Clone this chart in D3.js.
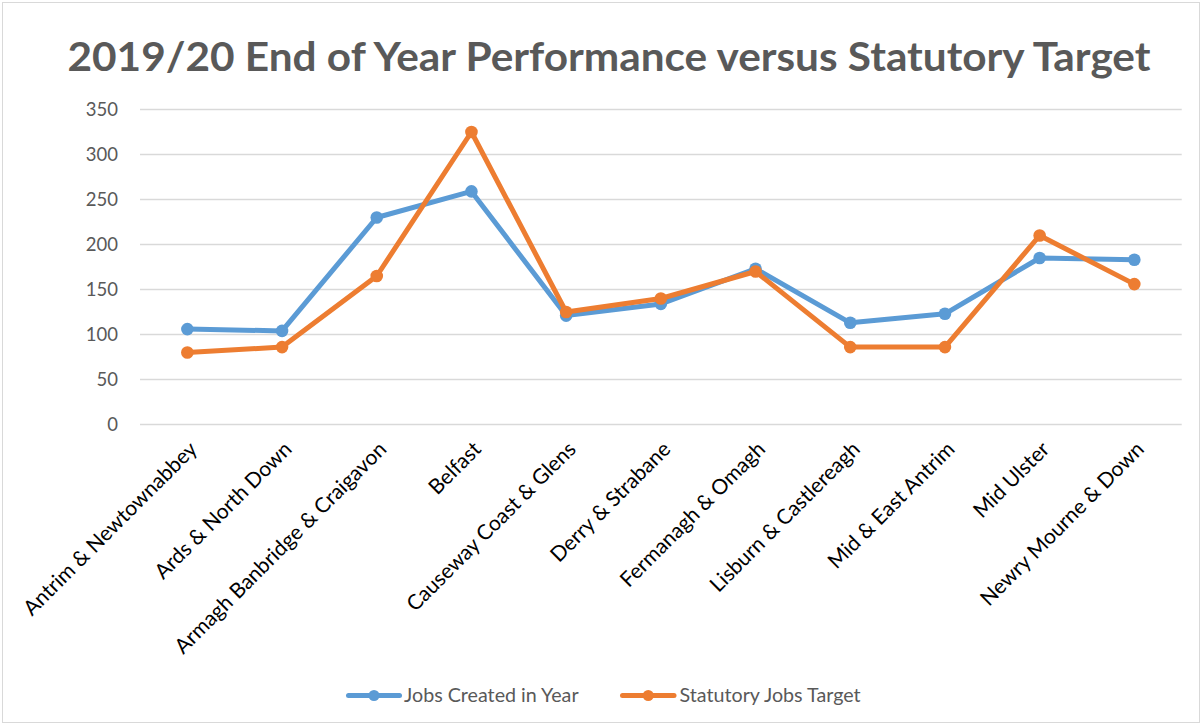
<!DOCTYPE html>
<html>
<head>
<meta charset="utf-8">
<script src="https://cdn.jsdelivr.net/npm/d3@7"></script>
<style>
  html, body { margin: 0; padding: 0; background: #fff; }
  svg { display: block; }
</style>
</head>
<body>
<svg id="chart" width="1203" height="726"></svg>
<script>
const categories = [
  "Antrim & Newtownabbey", "Ards & North Down", "Armagh Banbridge & Craigavon",
  "Belfast", "Causeway Coast & Glens", "Derry & Strabane", "Fermanagh & Omagh",
  "Lisburn & Castlereagh", "Mid & East Antrim", "Mid Ulster", "Newry Mourne & Down"
];
const jobsCreated = [106, 104, 230, 259, 121, 134, 173, 113, 123, 185, 183];
const jobsTarget  = [80, 86, 165, 325, 125, 140, 170, 86, 86, 210, 156];
const yTicks = [0, 50, 100, 150, 200, 250, 300, 350];
const seriesNames = ["Jobs Created in Year", "Statutory Jobs Target"];
const seriesColors = ["#5B9BD5", "#ED7D31"];
const titleText = "2019/20 End of Year Performance versus Statutory Target";

const svg = d3.select("#chart");
const FONT = "Lato, 'Open Sans', sans-serif";

// outer border
svg.append("rect").attr("x", 2.5).attr("y", 2.5).attr("width", 1197).attr("height", 720)
  .attr("fill", "#fff").attr("stroke", "#d9d9d9").attr("stroke-width", 1);

// title
svg.append("text").attr("x", 609).attr("y", 71).attr("text-anchor", "middle")
  .attr("font-family", FONT).attr("font-weight", 700).attr("font-size", 40)
  .attr("fill", "#595959").attr("textLength", 1083).attr("lengthAdjust", "spacingAndGlyphs")
  .text(titleText);

const plotLeft = 140, plotRight = 1181.7, plotTop = 109.5, plotBottom = 424.5;

const x = d3.scaleBand().domain(categories).range([plotLeft, plotRight]).padding(0);
const y = d3.scaleLinear().domain([0, 350]).range([plotBottom, plotTop]);

// gridlines
svg.append("g").selectAll("line").data(yTicks).join("line")
  .attr("x1", plotLeft).attr("x2", plotRight)
  .attr("y1", d => y(d)).attr("y2", d => y(d))
  .attr("stroke", "#d9d9d9").attr("stroke-width", 1.5);

// y axis labels
const yAxis = d3.axisLeft(y).tickValues(yTicks).tickSize(0).tickPadding(0);
const yg = svg.append("g").attr("transform", `translate(118,0)`).call(yAxis);
yg.select(".domain").remove();
yg.selectAll("text").attr("font-family", FONT).attr("font-size", 18.5)
  .attr("fill", "#595959").attr("dy", "0.35em").attr("x", 0);

// x axis labels
const xAxis = d3.axisBottom(x).tickSize(0).tickPadding(0);
const xg = svg.append("g").attr("transform", `translate(0,${plotBottom})`).call(xAxis);
xg.select(".domain").remove();
xg.selectAll(".tick text")
  .attr("font-family", FONT).attr("font-size", 21).attr("fill", "#000")
  .attr("text-anchor", "end").attr("y", 0).attr("dy", 0)
  .attr("transform", "translate(11,26) rotate(-45)");

// lines
const cx = i => x(categories[i]) + x.bandwidth() / 2;
const line = d3.line().x((d, i) => cx(i)).y(d => y(d));
[jobsCreated, jobsTarget].forEach((series, s) => {
  const g = svg.append("g");
  g.append("path").datum(series).attr("d", line).attr("fill", "none")
    .attr("stroke", seriesColors[s]).attr("stroke-width", 5)
    .attr("stroke-linejoin", "round").attr("stroke-linecap", "round");
  g.selectAll("circle").data(series).join("circle")
    .attr("cx", (d, i) => cx(i)).attr("cy", d => y(d)).attr("r", 6.3)
    .attr("fill", seriesColors[s]);
});

// legend
const legendItems = [
  { lx1: 348.5, lx2: 399.5, tx: 404 },
  { lx1: 622.5, lx2: 674, tx: 679.5 }
];
const ly = 695.5;
legendItems.forEach((it, s) => {
  const g = svg.append("g");
  g.append("line").attr("x1", it.lx1).attr("x2", it.lx2).attr("y1", ly).attr("y2", ly)
    .attr("stroke", seriesColors[s]).attr("stroke-width", 5).attr("stroke-linecap", "round");
  g.append("circle").attr("cx", (it.lx1 + it.lx2) / 2).attr("cy", ly).attr("r", 5.5)
    .attr("fill", seriesColors[s]);
  g.append("text").attr("x", it.tx).attr("y", ly).attr("dy", "0.35em")
    .attr("font-family", FONT).attr("font-size", 19.7).attr("fill", "#595959")
    .text(seriesNames[s]);
});
</script>
</body>
</html>
